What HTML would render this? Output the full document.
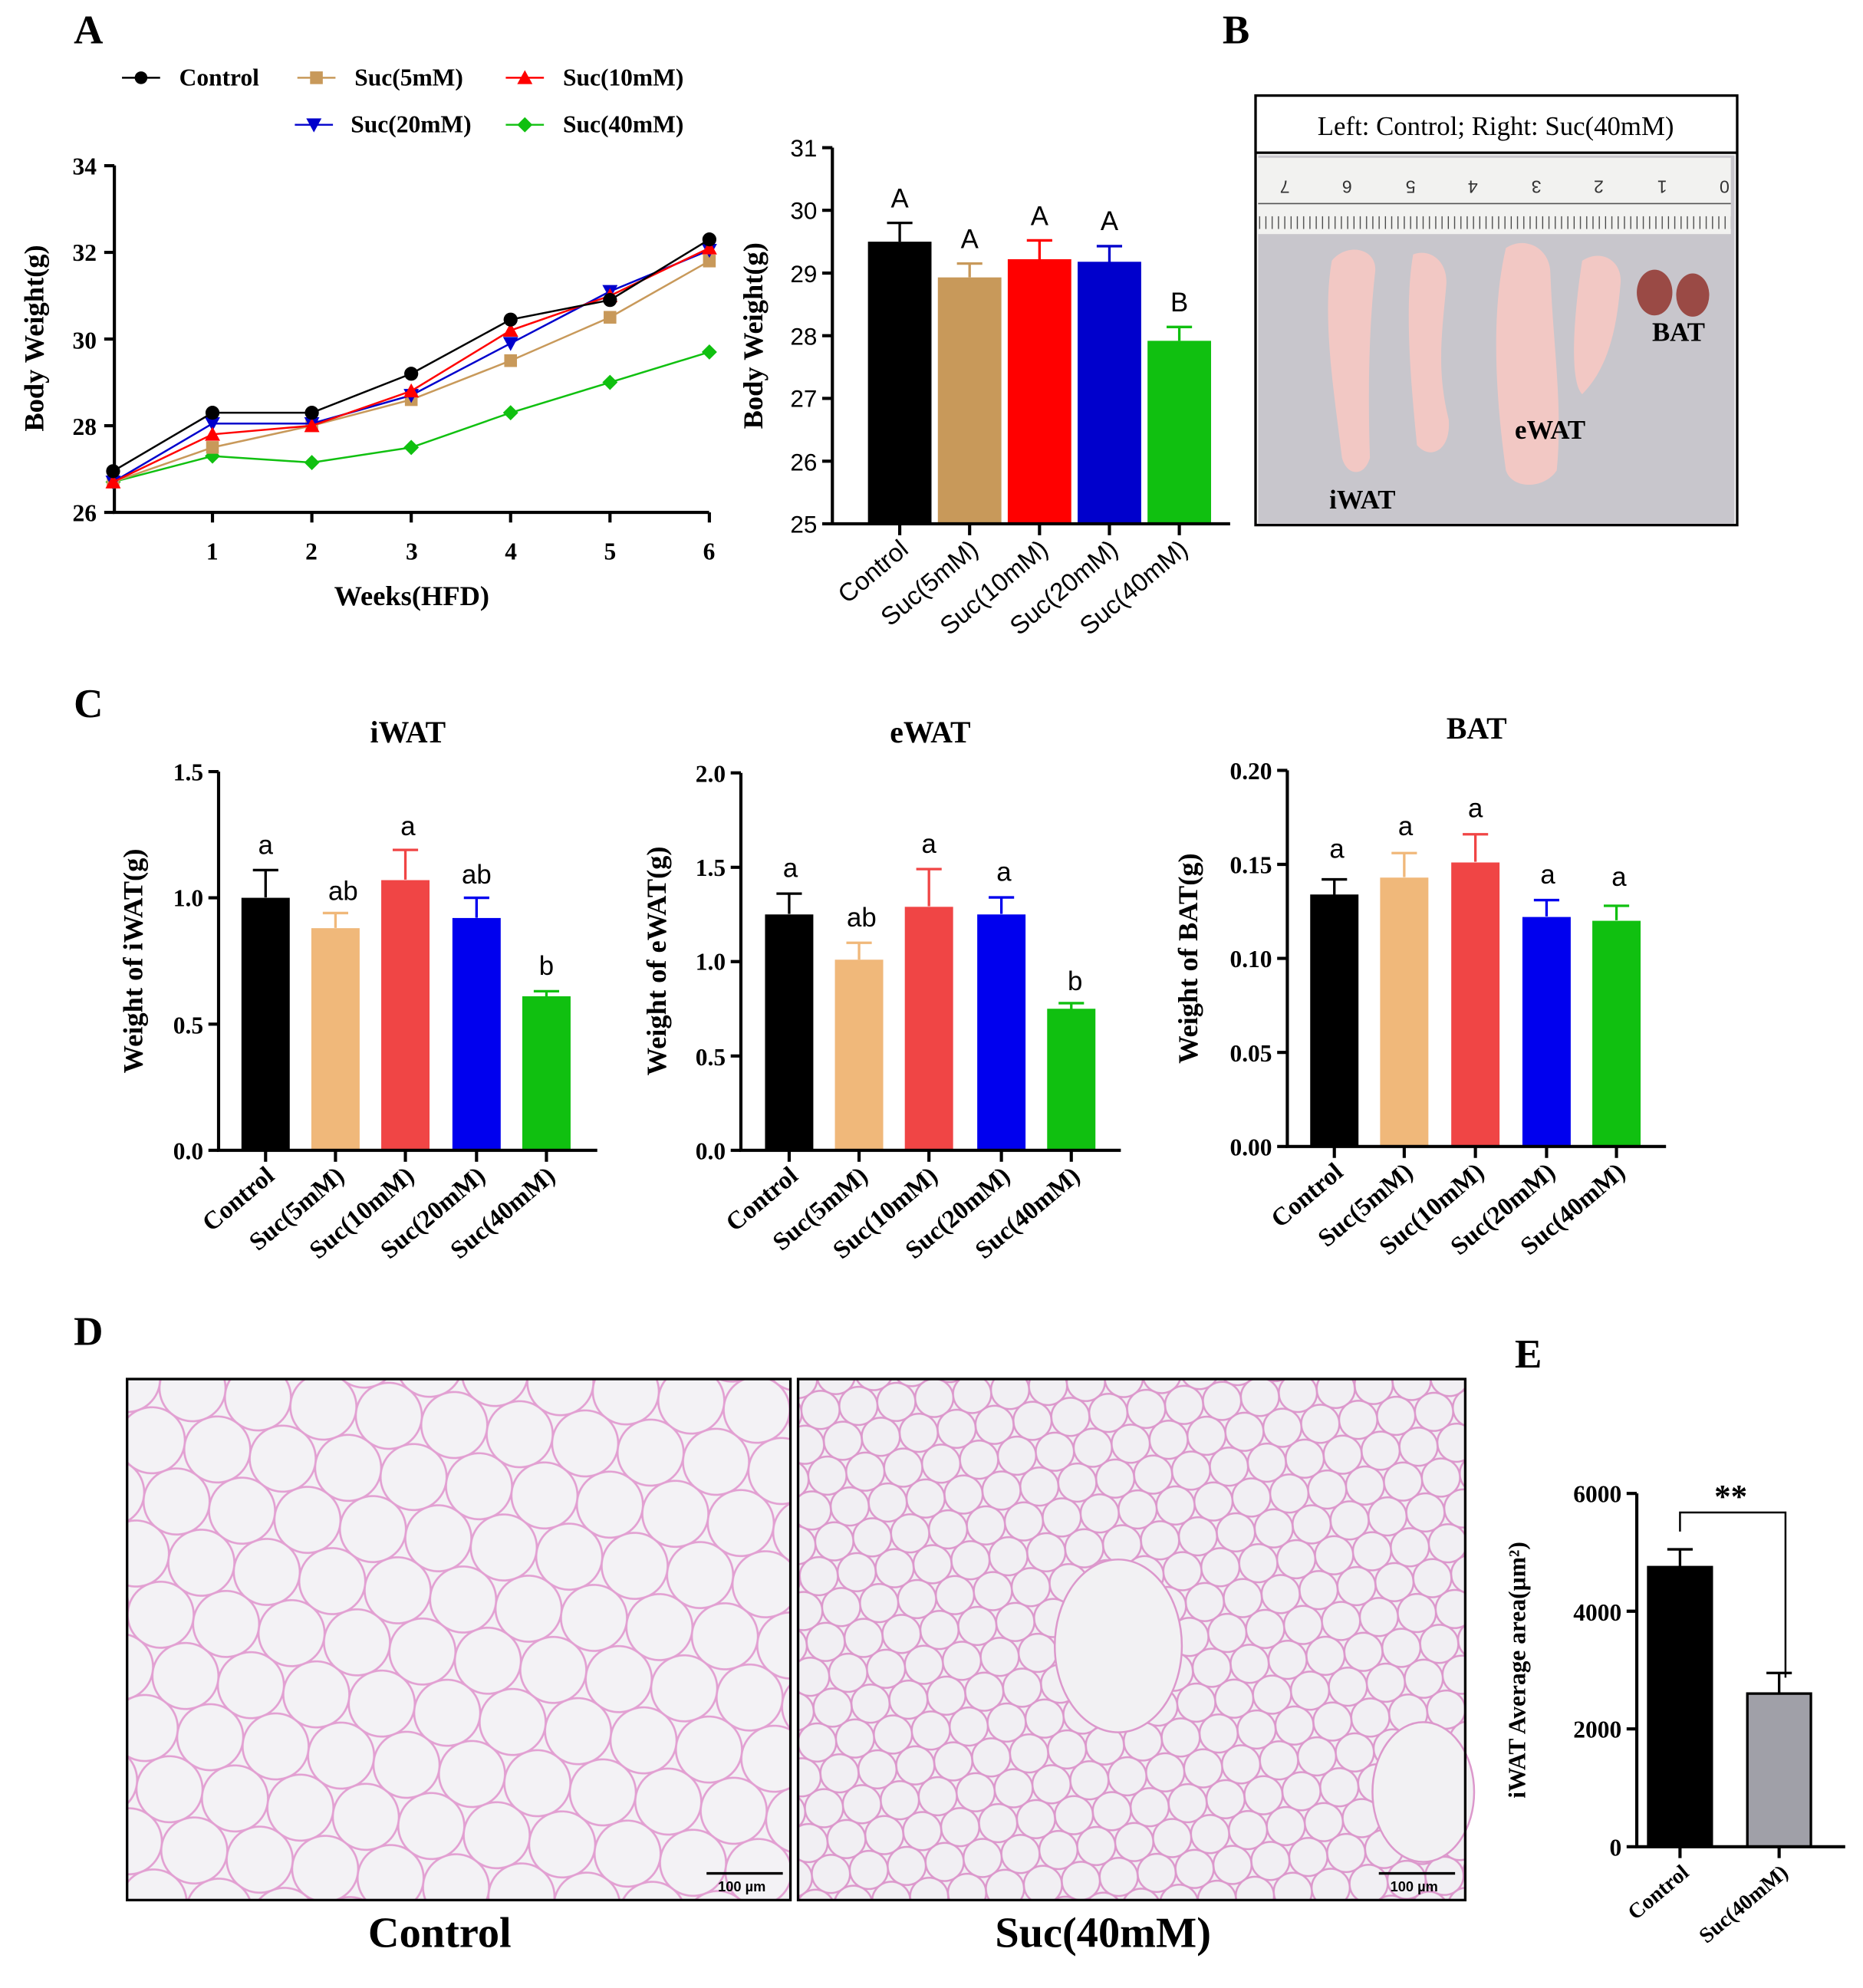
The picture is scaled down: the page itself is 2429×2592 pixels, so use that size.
<!DOCTYPE html>
<html><head><meta charset="utf-8"><style>
html,body{margin:0;padding:0;background:#fff}
svg{display:block}
.t{font-family:"Liberation Serif",serif;font-weight:bold}
.s{font-family:"Liberation Sans",sans-serif}
</style></head><body>
<svg xmlns="http://www.w3.org/2000/svg" width="2429" height="2592" viewBox="0 0 1466 1564">
<defs>
<marker id="mo" viewBox="-6 -6 12 12" markerWidth="12" markerHeight="12" markerUnits="userSpaceOnUse"><circle r="5.5" fill="#000"/></marker>
<marker id="ms" viewBox="-6 -6 12 12" markerWidth="12" markerHeight="12" markerUnits="userSpaceOnUse"><rect x="-5" y="-5" width="10" height="10" fill="#c8995a"/></marker>
<marker id="mu" viewBox="-6 -6 12 12" markerWidth="12" markerHeight="12" markerUnits="userSpaceOnUse"><polygon points="0,-6 6,5 -6,5" fill="#f00"/></marker>
<marker id="md" viewBox="-6 -6 12 12" markerWidth="12" markerHeight="12" markerUnits="userSpaceOnUse"><polygon points="-6,-5 6,-5 0,6" fill="#00c"/></marker>
<marker id="mg" viewBox="-6 -6 12 12" markerWidth="12" markerHeight="12" markerUnits="userSpaceOnUse"><polygon points="0,-6 6,0 0,6 -6,0" fill="#10c010"/></marker>
<pattern id="cellA" width="52" height="90" patternUnits="userSpaceOnUse" patternTransform="translate(100 1085) rotate(8)">
<rect width="52" height="90" fill="#f3f2f5"/>
<g fill="none" stroke="#e2a0d2" stroke-width="1.6"><circle cx="0" cy="0" r="26"/><circle cx="52" cy="0" r="26"/><circle cx="26" cy="45" r="26"/><circle cx="0" cy="90" r="26"/><circle cx="52" cy="90" r="26"/></g>
</pattern>
<pattern id="cellB" width="30" height="52" patternUnits="userSpaceOnUse" patternTransform="translate(628 1085) rotate(-6)">
<rect width="30" height="52" fill="#f1eff3"/>
<g fill="none" stroke="#dc98cc" stroke-width="1.5"><circle cx="0" cy="0" r="15"/><circle cx="30" cy="0" r="15"/><circle cx="15" cy="26" r="15"/><circle cx="0" cy="52" r="15"/><circle cx="30" cy="52" r="15"/></g>
</pattern>
<pattern id="rul" width="4.95" height="60" patternUnits="userSpaceOnUse" x="1357">
<line x1="0.5" y1="50" x2="0.5" y2="60" stroke="#444" stroke-width="0.8"/>
</pattern>
</defs>
<rect width="1466" height="1564" fill="#fff"/>
<g class="t" font-size="32">
<text x="58" y="34">A</text><text x="962" y="34">B</text><text x="58" y="564">C</text><text x="58" y="1058">D</text><text x="1192" y="1076">E</text>
</g>
<!-- Legend -->
<g class="t" font-size="19">
<line x1="96" y1="61" x2="126" y2="61" stroke="#000" stroke-width="1.5"/><circle cx="111" cy="61" r="5"/><text x="141" y="67">Control</text>
<line x1="234" y1="61" x2="264" y2="61" stroke="#c8995a" stroke-width="1.5"/><rect x="244" y="56" width="10" height="10" fill="#c8995a"/><text x="279" y="67">Suc(5mM)</text>
<line x1="398" y1="61" x2="428" y2="61" stroke="#f00" stroke-width="1.5"/><polygon points="413,55 419,66 407,66" fill="#f00"/><text x="443" y="67">Suc(10mM)</text>
<line x1="232" y1="98" x2="262" y2="98" stroke="#00c" stroke-width="1.5"/><polygon points="241,93 253,93 247,104" fill="#00c"/><text x="276" y="104">Suc(20mM)</text>
<line x1="398" y1="98" x2="428" y2="98" stroke="#10c010" stroke-width="1.5"/><polygon points="413,92 419,98 413,104 407,98" fill="#10c010"/><text x="443" y="104">Suc(40mM)</text>
</g>
<!-- Line chart -->
<g stroke="#000" stroke-width="2.5" fill="none">
<path d="M90,130 V403 H558"/>
<path d="M82,403H90M82,334.8H90M82,266.6H90M82,198.4H90M82,130.2H90"/>
<path d="M167.2,403v8M245.4,403v8M323.6,403v8M401.8,403v8M480,403v8M558.2,403v8"/>
</g>
<g class="t" font-size="19" text-anchor="end">
<text x="76" y="410">26</text><text x="76" y="342">28</text><text x="76" y="274">30</text><text x="76" y="205">32</text><text x="76" y="137">34</text>
</g>
<g class="t" font-size="19" text-anchor="middle">
<text x="167" y="440">1</text><text x="245" y="440">2</text><text x="324" y="440">3</text><text x="402" y="440">4</text><text x="480" y="440">5</text><text x="558" y="440">6</text>
</g>
<text x="324" y="476" text-anchor="middle" class="t" font-size="22">Weeks(HFD)</text>
<text transform="translate(34,266) rotate(-90)" text-anchor="middle" class="t" font-size="22">Body Weight(g)</text>
<g fill="none" stroke-width="1.5">
<polyline stroke="#10c010" marker-start="url(#mg)" marker-mid="url(#mg)" marker-end="url(#mg)" points="89,379.1 167.2,358.7 245.4,363.8 323.6,351.9 401.8,324.6 480,300.7 558.2,276.8"/>
<polyline stroke="#c8995a" marker-start="url(#ms)" marker-mid="url(#ms)" marker-end="url(#ms)" points="89,379.1 167.2,351.9 245.4,334.8 323.6,314.3 401.8,283.6 480,249.5 558.2,205.2"/>
<polyline stroke="#00c" marker-start="url(#md)" marker-mid="url(#md)" marker-end="url(#md)" points="89,379.1 167.2,333.1 245.4,333.1 323.6,310.9 401.8,270 480,229.1 558.2,196.7"/>
<polyline stroke="#f00" marker-start="url(#mu)" marker-mid="url(#mu)" marker-end="url(#mu)" points="89,379.1 167.2,341.6 245.4,334.8 323.6,307.5 401.8,259.8 480,232.6 558.2,195"/>
<polyline stroke="#000" marker-start="url(#mo)" marker-mid="url(#mo)" marker-end="url(#mo)" points="89,370.6 167.2,324.6 245.4,324.6 323.6,293.9 401.8,251.3 480,235.9 558.2,188.2"/>
</g>
<!-- Bar A -->
<g stroke-width="2">
<path d="M708,190V175.2M698,175.2H718" stroke="#000"/><rect x="683" y="190" width="50" height="222" fill="#000"/>
<path d="M763,218V207.2M753,207.2H773" stroke="#c8995a"/><rect x="738" y="218.1" width="50" height="193.9" fill="#c8995a"/>
<path d="M818,204V189M808,189H828" stroke="#f00"/><rect x="793" y="203.8" width="50" height="208.2" fill="#f00"/>
<path d="M873,206V193.5M863,193.5H883" stroke="#0000cc"/><rect x="848" y="205.8" width="50" height="206.2" fill="#0000cc"/>
<path d="M928,268V257.1M918,257.1H938" stroke="#10c010"/><rect x="903" y="268" width="50" height="144" fill="#10c010"/>
</g>
<g stroke="#000" stroke-width="2.5" fill="none">
<path d="M655,116V412H968"/>
<path d="M647,412H655M647,362.7H655M647,313.3H655M647,264H655M647,214.7H655M647,165.3H655M647,116H655"/>
<path d="M708,412v9M763,412v9M818,412v9M873,412v9M928,412v9"/>
</g>
<g class="s" font-size="19" text-anchor="end">
<text x="643" y="419">25</text><text x="643" y="370">26</text><text x="643" y="320">27</text><text x="643" y="271">28</text><text x="643" y="222">29</text><text x="643" y="172">30</text><text x="643" y="123">31</text>
</g>
<g class="s" font-size="21" text-anchor="middle">
<text x="708" y="163">A</text><text x="763" y="195">A</text><text x="818" y="177">A</text><text x="873" y="181">A</text><text x="928" y="245">B</text>
</g>
<g class="s" font-size="20" text-anchor="end">
<text transform="translate(716,434) rotate(-40)">Control</text>
<text transform="translate(771,434) rotate(-40)">Suc(5mM)</text>
<text transform="translate(826,434) rotate(-40)">Suc(10mM)</text>
<text transform="translate(881,434) rotate(-40)">Suc(20mM)</text>
<text transform="translate(936,434) rotate(-40)">Suc(40mM)</text>
</g>
<text transform="translate(600,264) rotate(-90)" text-anchor="middle" class="t" font-size="22">Body Weight(g)</text>
<!-- Panel B -->
<rect x="988" y="75" width="379" height="338" fill="#fff" stroke="#000" stroke-width="2"/>
<line x1="988" y1="120" x2="1367" y2="120" stroke="#000" stroke-width="2"/>
<text x="1177" y="106" text-anchor="middle" font-family="Liberation Serif,serif" font-size="21">Left: Control; Right: Suc(40mM)</text>
<rect x="990" y="122" width="375" height="290" fill="#c8c6cc"/>
<rect x="990" y="124" width="372" height="60" fill="#f2f2f0"/>
<rect x="990" y="124" width="372" height="60" fill="url(#rul)"/>
<line x1="990" y1="160" x2="1362" y2="160" stroke="#555" stroke-width="1"/>
<g class="s" font-size="14" text-anchor="middle" fill="#333">
<text transform="translate(1357,142) rotate(180)">0</text><text transform="translate(1308,142) rotate(180)">1</text><text transform="translate(1258,142) rotate(180)">2</text><text transform="translate(1209,142) rotate(180)">3</text><text transform="translate(1159,142) rotate(180)">4</text><text transform="translate(1110,142) rotate(180)">5</text><text transform="translate(1060,142) rotate(180)">6</text><text transform="translate(1011,142) rotate(180)">7</text>
</g>
<g fill="#f2c8c4">
<path d="M1048,205 C1060,190 1085,195 1082,215 C1078,250 1076,300 1078,360 C1074,375 1060,375 1056,360 C1050,310 1040,250 1048,205Z"/>
<path d="M1112,200 C1125,195 1140,205 1138,225 C1135,260 1130,290 1140,330 C1142,355 1125,362 1115,350 C1110,300 1105,240 1112,200Z"/>
<path d="M1185,195 C1200,185 1220,195 1220,215 C1222,270 1230,320 1225,370 C1215,385 1190,385 1185,370 C1178,320 1172,250 1185,195Z"/>
<path d="M1245,205 C1260,195 1278,205 1275,225 C1272,260 1265,290 1245,310 C1235,300 1238,250 1245,205Z"/>
</g>
<ellipse cx="1302" cy="230" rx="14" ry="18" fill="#9a4a45"/>
<ellipse cx="1332" cy="232" rx="13" ry="17" fill="#9a4a45"/>
<g class="t" font-size="21"><text x="1300" y="268">BAT</text><text x="1192" y="345">eWAT</text><text x="1046" y="400">iWAT</text></g>

<!-- Panel C titles -->
<g class="t" font-size="24" text-anchor="middle"><text x="321" y="584">iWAT</text><text x="732" y="584">eWAT</text><text x="1162" y="581">BAT</text></g>
<!-- iWAT -->
<g stroke-width="2">
<path d="M209,706V684.5M199,684.5H219" stroke="#000"/><rect x="190" y="706.3" width="38" height="198.7" fill="#000"/>
<path d="M264,730V718.3M254,718.3H274" stroke="#f0b87a"/><rect x="245" y="730.2" width="38" height="174.8" fill="#f0b87a"/>
<path d="M319,692V668.6M309,668.6H329" stroke="#f04545"/><rect x="300" y="692.4" width="38" height="212.6" fill="#f04545"/>
<path d="M375,722V706.3M365,706.3H385" stroke="#0000ee"/><rect x="356" y="722.2" width="38" height="182.8" fill="#0000ee"/>
<path d="M430,784V779.8M420,779.8H440" stroke="#10c010"/><rect x="411" y="783.8" width="38" height="121.2" fill="#10c010"/>
</g>
<g stroke="#000" stroke-width="2.5" fill="none">
<path d="M172,607V905H470"/>
<path d="M164,905H172M164,805.7H172M164,706.3H172M164,607H172"/>
<path d="M209,905v9M264,905v9M319,905v9M375,905v9M430,905v9"/>
</g>
<g class="t" font-size="19" text-anchor="end"><text x="160" y="912">0.0</text><text x="160" y="813">0.5</text><text x="160" y="713">1.0</text><text x="160" y="614">1.5</text></g>
<g class="s" font-size="21" text-anchor="middle"><text x="209" y="672">a</text><text x="270" y="708">ab</text><text x="321" y="657">a</text><text x="375" y="695">ab</text><text x="430" y="767">b</text></g>
<text transform="translate(112,756) rotate(-90)" text-anchor="middle" class="t" font-size="22">Weight of iWAT(g)</text>
<g class="t" font-size="20" text-anchor="end">
<text transform="translate(217,927) rotate(-40)">Control</text><text transform="translate(272,927) rotate(-40)">Suc(5mM)</text><text transform="translate(327,927) rotate(-40)">Suc(10mM)</text><text transform="translate(383,927) rotate(-40)">Suc(20mM)</text><text transform="translate(438,927) rotate(-40)">Suc(40mM)</text>
</g>
<!-- eWAT -->
<g stroke-width="2">
<path d="M621,719V703M611,703H631" stroke="#000"/><rect x="602" y="719.4" width="38" height="185.6" fill="#000"/>
<path d="M676,755V741.7M666,741.7H686" stroke="#f0b87a"/><rect x="657" y="755" width="38" height="150" fill="#f0b87a"/>
<path d="M731,713V683.7M721,683.7H741" stroke="#f04545"/><rect x="712" y="713.4" width="38" height="191.6" fill="#f04545"/>
<path d="M788,719V706M778,706H798" stroke="#0000ee"/><rect x="769" y="719.4" width="38" height="185.6" fill="#0000ee"/>
<path d="M843,794V789.2M833,789.2H853" stroke="#10c010"/><rect x="824" y="793.6" width="38" height="111.4" fill="#10c010"/>
</g>
<g stroke="#000" stroke-width="2.5" fill="none">
<path d="M583,608V905H882"/>
<path d="M575,905H583M575,830.8H583M575,756.5H583M575,682.3H583M575,608H583"/>
<path d="M621,905v9M676,905v9M731,905v9M788,905v9M843,905v9"/>
</g>
<g class="t" font-size="19" text-anchor="end"><text x="571" y="912">0.0</text><text x="571" y="838">0.5</text><text x="571" y="763">1.0</text><text x="571" y="689">1.5</text><text x="571" y="615">2.0</text></g>
<g class="s" font-size="21" text-anchor="middle"><text x="622" y="690">a</text><text x="678" y="729">ab</text><text x="731" y="671">a</text><text x="790" y="693">a</text><text x="846" y="779">b</text></g>
<text transform="translate(524,756) rotate(-90)" text-anchor="middle" class="t" font-size="22">Weight of eWAT(g)</text>
<g class="t" font-size="20" text-anchor="end">
<text transform="translate(629,927) rotate(-40)">Control</text><text transform="translate(684,927) rotate(-40)">Suc(5mM)</text><text transform="translate(739,927) rotate(-40)">Suc(10mM)</text><text transform="translate(796,927) rotate(-40)">Suc(20mM)</text><text transform="translate(851,927) rotate(-40)">Suc(40mM)</text>
</g>
<!-- BAT -->
<g stroke-width="2">
<path d="M1050,704V691.8M1040,691.8H1060" stroke="#000"/><rect x="1031" y="703.7" width="38" height="198.3" fill="#000"/>
<path d="M1105,690V671.1M1095,671.1H1115" stroke="#f0b87a"/><rect x="1086" y="690.4" width="38" height="211.6" fill="#f0b87a"/>
<path d="M1161,678V656.3M1151,656.3H1171" stroke="#f04545"/><rect x="1142" y="678.5" width="38" height="223.5" fill="#f04545"/>
<path d="M1217,721V708.1M1207,708.1H1227" stroke="#0000ee"/><rect x="1198" y="721.4" width="38" height="180.6" fill="#0000ee"/>
<path d="M1272,724V712.6M1262,712.6H1282" stroke="#10c010"/><rect x="1253" y="724.4" width="38" height="177.6" fill="#10c010"/>
</g>
<g stroke="#000" stroke-width="2.5" fill="none">
<path d="M1013,606V902H1311"/>
<path d="M1005,902H1013M1005,828H1013M1005,754H1013M1005,680H1013M1005,606H1013"/>
<path d="M1050,902v9M1105,902v9M1161,902v9M1217,902v9M1272,902v9"/>
</g>
<g class="t" font-size="19" text-anchor="end"><text x="1001" y="909">0.00</text><text x="1001" y="835">0.05</text><text x="1001" y="761">0.10</text><text x="1001" y="687">0.15</text><text x="1001" y="613">0.20</text></g>
<g class="s" font-size="21" text-anchor="middle"><text x="1052" y="675">a</text><text x="1106" y="657">a</text><text x="1161" y="643">a</text><text x="1218" y="695">a</text><text x="1274" y="697">a</text></g>
<text transform="translate(942,754) rotate(-90)" text-anchor="middle" class="t" font-size="22">Weight of BAT(g)</text>
<g class="t" font-size="20" text-anchor="end">
<text transform="translate(1058,924) rotate(-40)">Control</text><text transform="translate(1113,924) rotate(-40)">Suc(5mM)</text><text transform="translate(1169,924) rotate(-40)">Suc(10mM)</text><text transform="translate(1225,924) rotate(-40)">Suc(20mM)</text><text transform="translate(1280,924) rotate(-40)">Suc(40mM)</text>
</g>
<!-- Panel D -->
<rect x="100" y="1085" width="522" height="410" fill="url(#cellA)"/>
<rect x="628" y="1085" width="525" height="410" fill="url(#cellB)"/>
<ellipse cx="880" cy="1295" rx="50" ry="68" fill="#f2f1f3" stroke="#dc98cc" stroke-width="1.5"/>
<ellipse cx="1120" cy="1410" rx="40" ry="55" fill="#f2f1f3" stroke="#dc98cc" stroke-width="1.5"/>
<rect x="100" y="1085" width="522" height="410" fill="none" stroke="#000" stroke-width="2"/>
<rect x="628" y="1085" width="525" height="410" fill="none" stroke="#000" stroke-width="2"/>
<g font-family="Liberation Sans,sans-serif" font-size="11" font-weight="bold"><line x1="556" y1="1474" x2="616" y2="1474" stroke="#000" stroke-width="2"/><text x="565" y="1488">100 µm</text>
<line x1="1085" y1="1474" x2="1145" y2="1474" stroke="#000" stroke-width="2"/><text x="1094" y="1488">100 µm</text></g>
<g class="t" font-size="34" text-anchor="middle"><text x="346" y="1532">Control</text><text x="868" y="1532">Suc(40mM)</text></g>
<!-- Panel E -->
<g stroke="#000" stroke-width="2">
<path d="M1322,1233V1219M1312,1219H1332" fill="none"/>
<rect x="1297" y="1233" width="50" height="220" fill="#000"/>
<path d="M1400,1332V1316.3M1390,1316.3H1410" fill="none"/>
<rect x="1375" y="1332.5" width="50" height="120.5" fill="#a0a0a8"/>
</g>
<g stroke="#000" stroke-width="2.5" fill="none">
<path d="M1288,1175V1453H1452"/>
<path d="M1280,1453H1288M1280,1360.3H1288M1280,1267.7H1288M1280,1175H1288"/>
<path d="M1322,1453v9M1400,1453v9"/>
</g>
<path d="M1322,1205V1190H1405V1320" fill="none" stroke="#000" stroke-width="1.5"/>
<text x="1362" y="1186" text-anchor="middle" class="t" font-size="26">**</text>
<g class="t" font-size="19" text-anchor="end"><text x="1276" y="1460">0</text><text x="1276" y="1367">2000</text><text x="1276" y="1275">4000</text><text x="1276" y="1182">6000</text></g>
<text transform="translate(1200,1314) rotate(-90)" text-anchor="middle" class="t" font-size="19">iWAT Average area(µm²)</text>
<g class="t" font-size="17" text-anchor="end">
<text transform="translate(1330,1475) rotate(-40)">Control</text><text transform="translate(1408,1475) rotate(-40)">Suc(40mM)</text>
</g>
</svg>
</body></html>
